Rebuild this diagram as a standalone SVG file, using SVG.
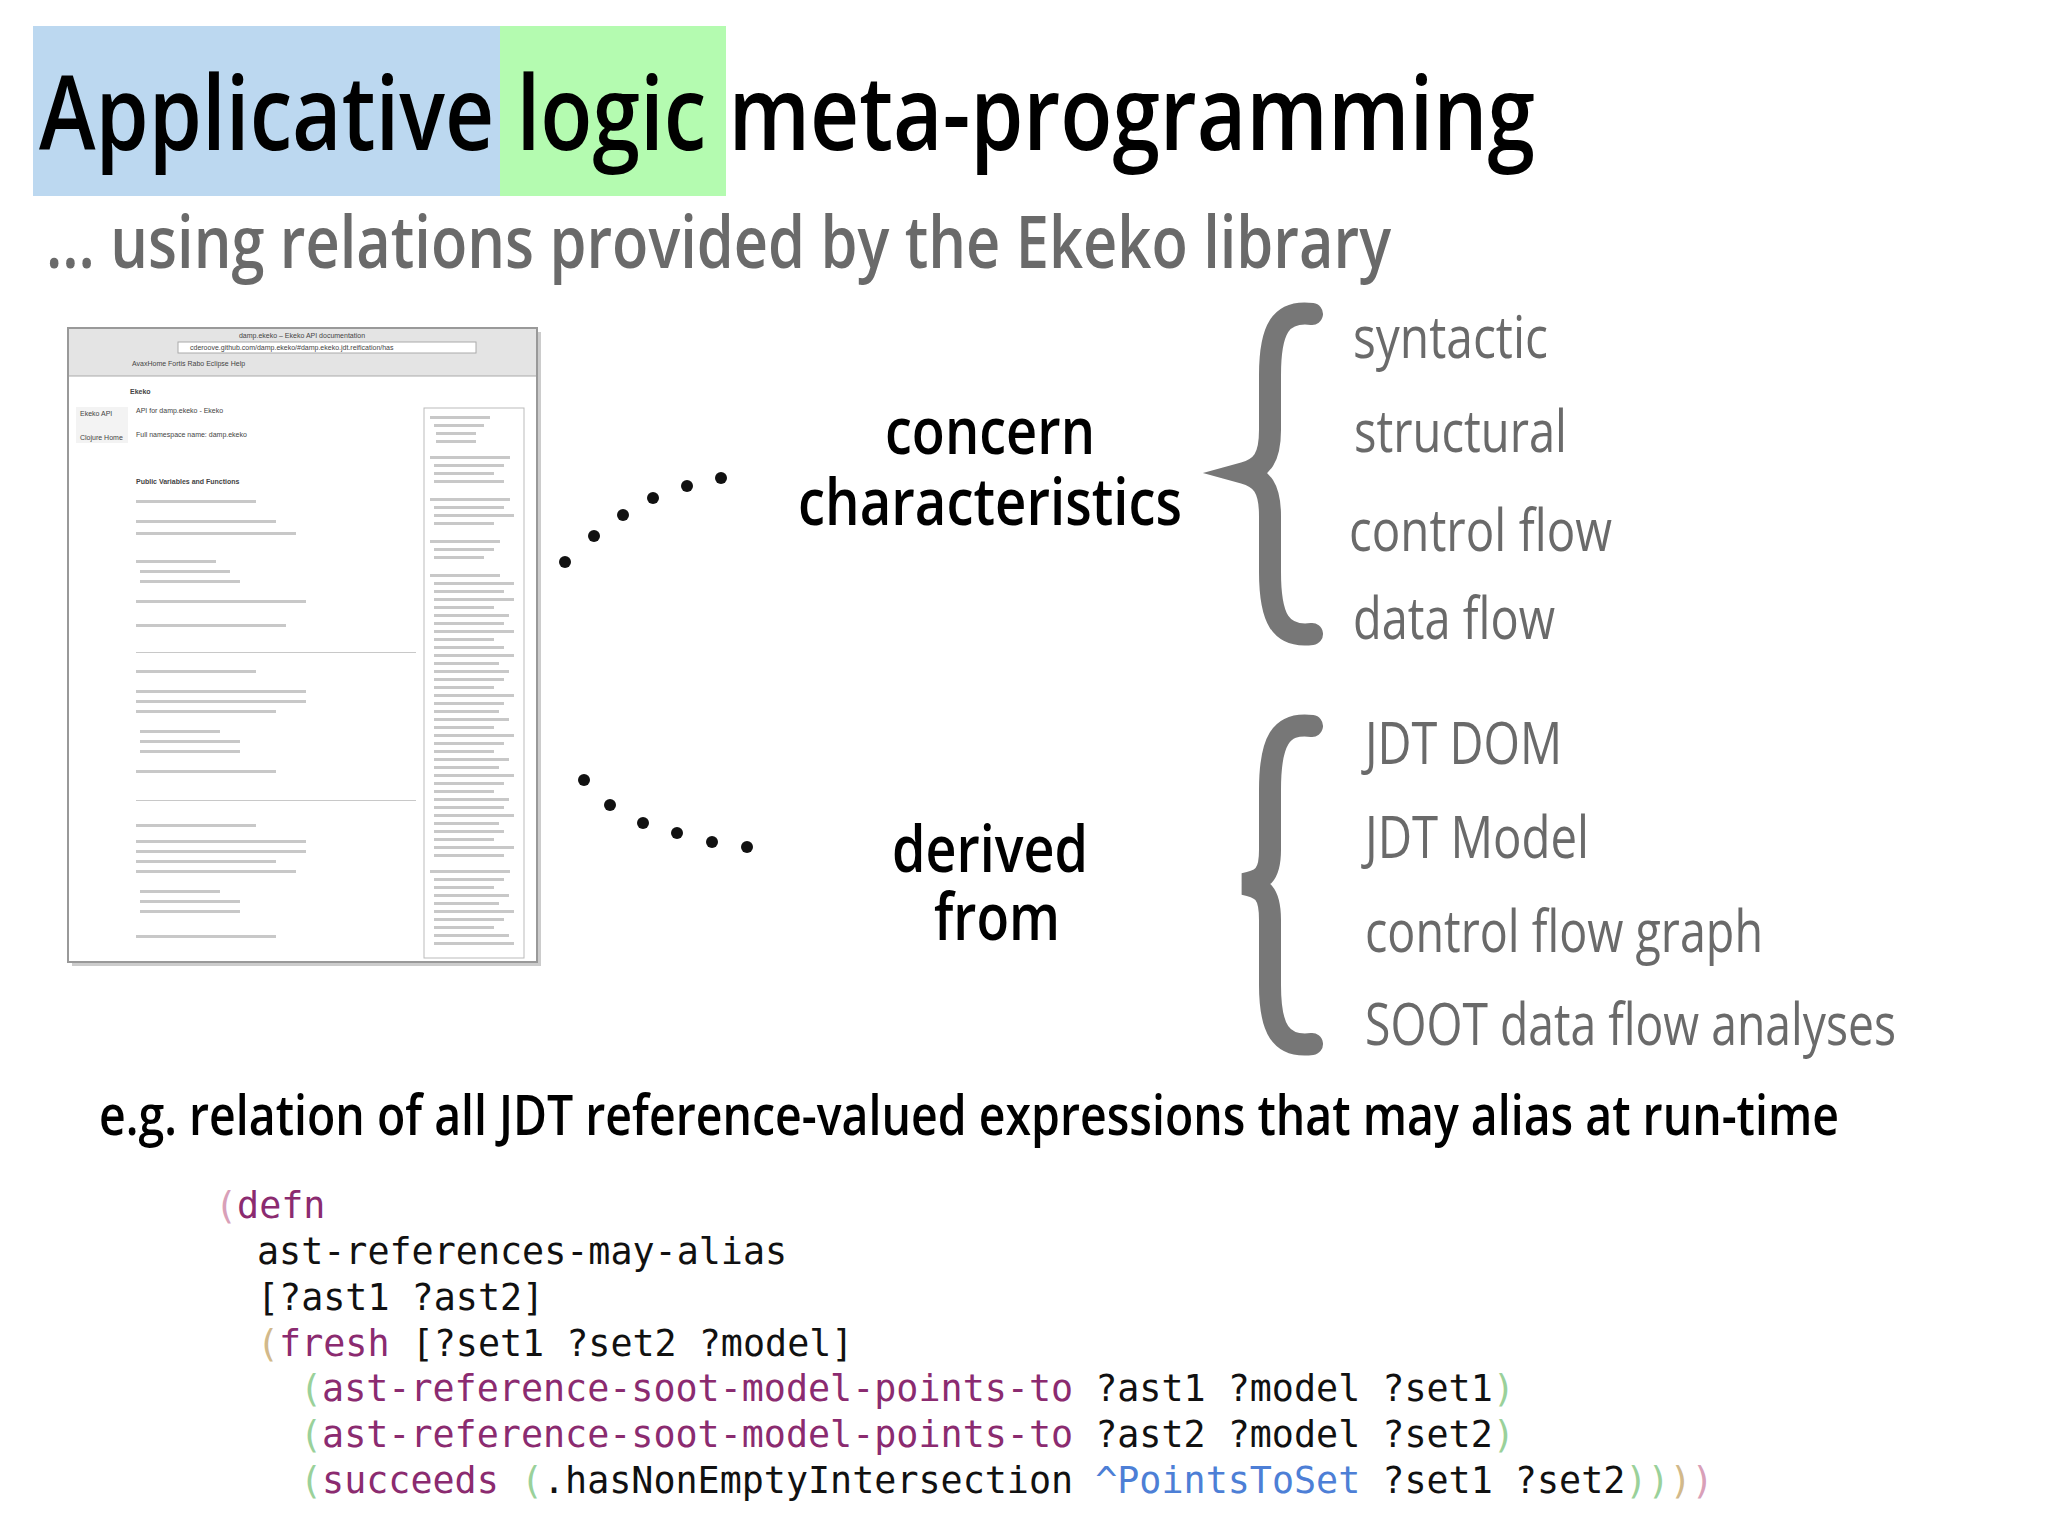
<svg xmlns="http://www.w3.org/2000/svg" width="2048" height="1536" viewBox="0 0 2048 1536">
<style>
.h{font-family:"Open Sans","DejaVu Sans",sans-serif}
.g{fill:#6a6a6a}
.k{fill:#000}
.br{fill:none;stroke:#777;stroke-width:22;stroke-linecap:round}
.dot{fill:#111}
.code{font-family:"DejaVu Sans Mono","Liberation Mono",monospace;font-size:36.7px}
.p{fill:#8b2b70}.pk{fill:#d9a0b8}.tn{fill:#d2b98a}.gr{fill:#9ad19a}.bl{fill:#4d7fd6}.bk{fill:#111}
.tiny{font-family:"Liberation Sans",sans-serif;font-size:7px;fill:#444}
.bar{fill:#c8c8c8}
</style>
<rect width="2048" height="1536" fill="#fff"/>
<g id="title">
<rect x="33" y="26" width="467" height="170" fill="#bcd8f0"/>
<rect x="500" y="26" width="226" height="170" fill="#b4fbb0"/>
<text class="h k" x="39" y="150" font-size="104" font-weight="600" textLength="1496" lengthAdjust="spacingAndGlyphs">Applicative logic meta-programming</text>
</g>
<g id="subtitle">
<text class="h g" x="46" y="268" font-size="72" font-weight="600" textLength="1345" lengthAdjust="spacingAndGlyphs">... using relations provided by the Ekeko library</text>
</g>
<g id="screenshot">
<rect x="72" y="332" width="469" height="634" fill="#ccc"/>
<rect x="68" y="328" width="469" height="634" fill="#fff" stroke="#999" stroke-width="2"/>
<rect x="69" y="329" width="467" height="47" fill="#e4e4e4"/>
<text class="tiny" x="302" y="338" text-anchor="middle">damp.ekeko – Ekeko API documentation</text>
<rect x="178" y="342" width="298" height="11" fill="#fff" stroke="#aaa"/>
<text class="tiny" x="190" y="350">cderoove.github.com/damp.ekeko/#damp.ekeko.jdt.reification/has</text>
<text class="tiny" x="132" y="366">AvaxHome   Fortis   Rabo   Eclipse Help</text>
<line x1="69" y1="376" x2="536" y2="376" stroke="#aaa"/>
<text class="tiny" x="130" y="394" font-weight="bold">Ekeko</text>
<rect x="76" y="407" width="52" height="36" fill="#f3f3f3"/>
<text class="tiny" x="80" y="416">Ekeko API</text>
<text class="tiny" x="80" y="440">Clojure Home</text>
<text class="tiny" x="136" y="413">API for damp.ekeko - Ekeko</text>
<text class="tiny" x="136" y="437">Full namespace name: damp.ekeko</text>
<text class="tiny" x="136" y="484" font-weight="bold">Public Variables and Functions</text>
<rect x="424" y="408" width="100" height="550" fill="#fff" stroke="#bbb"/>
<g class="bar">
<rect x="136" y="500" width="120" height="3"/><rect x="136" y="520" width="140" height="3"/><rect x="136" y="532" width="160" height="3"/>
<rect x="136" y="560" width="80" height="3"/><rect x="140" y="570" width="90" height="3"/><rect x="140" y="580" width="100" height="3"/>
<rect x="136" y="600" width="170" height="3"/><rect x="136" y="624" width="150" height="3"/>
<rect x="136" y="652" width="280" height="1"/>
<rect x="136" y="670" width="120" height="3"/><rect x="136" y="690" width="170" height="3"/><rect x="136" y="700" width="170" height="3"/><rect x="136" y="710" width="140" height="3"/>
<rect x="140" y="730" width="80" height="3"/><rect x="140" y="740" width="100" height="3"/><rect x="140" y="750" width="100" height="3"/>
<rect x="136" y="770" width="140" height="3"/>
<rect x="136" y="800" width="280" height="1"/>
<rect x="136" y="824" width="120" height="3"/><rect x="136" y="840" width="170" height="3"/><rect x="136" y="850" width="170" height="3"/><rect x="136" y="860" width="140" height="3"/><rect x="136" y="870" width="160" height="3"/>
<rect x="140" y="890" width="80" height="3"/><rect x="140" y="900" width="100" height="3"/><rect x="140" y="910" width="100" height="3"/>
<rect x="136" y="935" width="140" height="3"/>
</g>
<g class="bar">
<rect x="430" y="416" width="60" height="3"/><rect x="434" y="424" width="50" height="3"/><rect x="436" y="432" width="40" height="3"/><rect x="436" y="440" width="40" height="3"/>
<rect x="430" y="456" width="80" height="3"/><rect x="434" y="464" width="70" height="3"/><rect x="434" y="472" width="60" height="3"/><rect x="434" y="480" width="70" height="3"/>
<rect x="430" y="498" width="80" height="3"/><rect x="434" y="506" width="70" height="3"/><rect x="434" y="514" width="80" height="3"/><rect x="434" y="522" width="60" height="3"/>
<rect x="430" y="540" width="70" height="3"/><rect x="434" y="548" width="60" height="3"/><rect x="434" y="556" width="50" height="3"/>
<rect x="430" y="574" width="70" height="3"/><rect x="434" y="582" width="80" height="3"/><rect x="434" y="590" width="70" height="3"/><rect x="434" y="598" width="80" height="3"/><rect x="434" y="606" width="60" height="3"/><rect x="434" y="614" width="75" height="3"/><rect x="434" y="622" width="70" height="3"/><rect x="434" y="630" width="80" height="3"/><rect x="434" y="638" width="60" height="3"/><rect x="434" y="646" width="70" height="3"/><rect x="434" y="654" width="80" height="3"/><rect x="434" y="662" width="65" height="3"/><rect x="434" y="670" width="75" height="3"/><rect x="434" y="678" width="70" height="3"/><rect x="434" y="686" width="60" height="3"/><rect x="434" y="694" width="80" height="3"/><rect x="434" y="702" width="70" height="3"/><rect x="434" y="710" width="65" height="3"/><rect x="434" y="718" width="75" height="3"/><rect x="434" y="726" width="60" height="3"/><rect x="434" y="734" width="80" height="3"/><rect x="434" y="742" width="70" height="3"/><rect x="434" y="750" width="60" height="3"/><rect x="434" y="758" width="75" height="3"/><rect x="434" y="766" width="65" height="3"/><rect x="434" y="774" width="80" height="3"/><rect x="434" y="782" width="70" height="3"/><rect x="434" y="790" width="60" height="3"/><rect x="434" y="798" width="75" height="3"/><rect x="434" y="806" width="70" height="3"/><rect x="434" y="814" width="80" height="3"/><rect x="434" y="822" width="65" height="3"/><rect x="434" y="830" width="70" height="3"/><rect x="434" y="838" width="60" height="3"/><rect x="434" y="846" width="80" height="3"/><rect x="434" y="854" width="70" height="3"/>
<rect x="430" y="870" width="80" height="3"/><rect x="434" y="878" width="70" height="3"/><rect x="434" y="886" width="60" height="3"/><rect x="434" y="894" width="75" height="3"/><rect x="434" y="902" width="65" height="3"/><rect x="434" y="910" width="80" height="3"/><rect x="434" y="918" width="70" height="3"/><rect x="434" y="926" width="60" height="3"/><rect x="434" y="934" width="75" height="3"/><rect x="434" y="942" width="80" height="3"/>
</g>
</g>
<g id="connectors">
<circle class="dot" cx="565" cy="562" r="6"/><circle class="dot" cx="594" cy="536" r="6"/><circle class="dot" cx="623" cy="515" r="6"/><circle class="dot" cx="653" cy="498" r="6"/><circle class="dot" cx="687" cy="486" r="6"/><circle class="dot" cx="721" cy="478" r="6"/>
<circle class="dot" cx="584" cy="780" r="6"/><circle class="dot" cx="610" cy="805" r="6"/><circle class="dot" cx="643" cy="823" r="6"/><circle class="dot" cx="677" cy="833" r="6"/><circle class="dot" cx="712" cy="842" r="6"/><circle class="dot" cx="747" cy="847" r="6"/>
</g>
<g id="concern">
<text class="h k" x="990" y="454" font-size="66" font-weight="600" text-anchor="middle" textLength="210" lengthAdjust="spacingAndGlyphs">concern</text>
<text class="h k" x="990" y="525" font-size="66" font-weight="600" text-anchor="middle" textLength="384" lengthAdjust="spacingAndGlyphs">characteristics</text>
</g>
<g id="derived">
<text class="h k" x="990" y="872" font-size="66" font-weight="600" text-anchor="middle" textLength="196" lengthAdjust="spacingAndGlyphs">derived</text>
<text class="h k" x="997" y="940" font-size="66" font-weight="600" text-anchor="middle" textLength="126" lengthAdjust="spacingAndGlyphs">from</text>
</g>
<g id="brace1"><path class="br" d="M1312,314 C1280,310 1270,330 1270,375 L1270,430 C1270,458 1262,468 1244,473 C1262,478 1270,488 1270,516 L1270,572 C1270,618 1280,638 1312,634"/></g>
<g id="brace2"><path class="br" d="M1312,726 C1280,722 1270,742 1270,790 L1270,850 C1270,876 1262,880 1244,884 C1262,888 1270,892 1270,920 L1270,985 C1270,1028 1280,1048 1312,1044"/></g>
<g id="list1" class="h g">
<text x="1353" y="358" font-size="58" textLength="195" lengthAdjust="spacingAndGlyphs">syntactic</text>
<text x="1354" y="452" font-size="58" textLength="213" lengthAdjust="spacingAndGlyphs">structural</text>
<text x="1349" y="551" font-size="58" textLength="263" lengthAdjust="spacingAndGlyphs">control flow</text>
<text x="1353" y="639" font-size="58" textLength="202" lengthAdjust="spacingAndGlyphs">data flow</text>
</g>
<g id="list2" class="h g">
<text x="1365" y="764" font-size="58" textLength="197" lengthAdjust="spacingAndGlyphs">JDT DOM</text>
<text x="1365" y="858" font-size="58" textLength="224" lengthAdjust="spacingAndGlyphs">JDT Model</text>
<text x="1365" y="952" font-size="58" textLength="398" lengthAdjust="spacingAndGlyphs">control flow graph</text>
<text x="1365" y="1045" font-size="58" textLength="531" lengthAdjust="spacingAndGlyphs">SOOT data flow analyses</text>
</g>
<g id="example">
<text class="h k" x="99" y="1135" font-size="56" font-weight="600" textLength="1740" lengthAdjust="spacingAndGlyphs">e.g. relation of all JDT reference-valued expressions that may alias at run-time</text>
</g>
<g id="code" class="code">
<text x="215" y="1218"><tspan class="pk">(</tspan><tspan class="p">defn</tspan></text>
<text x="257" y="1264" class="bk">ast-references-may-alias</text>
<text x="257" y="1310" class="bk">[?ast1 ?ast2]</text>
<text x="257" y="1356"><tspan class="tn">(</tspan><tspan class="p">fresh</tspan><tspan class="bk"> [?set1 ?set2 ?model]</tspan></text>
<text x="300" y="1401"><tspan class="gr">(</tspan><tspan class="p">ast-reference-soot-model-points-to</tspan><tspan class="bk"> ?ast1 ?model ?set1</tspan><tspan class="gr">)</tspan></text>
<text x="300" y="1447"><tspan class="gr">(</tspan><tspan class="p">ast-reference-soot-model-points-to</tspan><tspan class="bk"> ?ast2 ?model ?set2</tspan><tspan class="gr">)</tspan></text>
<text x="300" y="1493"><tspan class="gr">(</tspan><tspan class="p">succeeds</tspan><tspan class="bk"> </tspan><tspan class="gr">(</tspan><tspan class="bk">.hasNonEmptyIntersection </tspan><tspan class="bl">^PointsToSet</tspan><tspan class="bk"> ?set1 ?set2</tspan><tspan class="gr">))</tspan><tspan class="tn">)</tspan><tspan class="pk">)</tspan></text>
</g>
</svg>
